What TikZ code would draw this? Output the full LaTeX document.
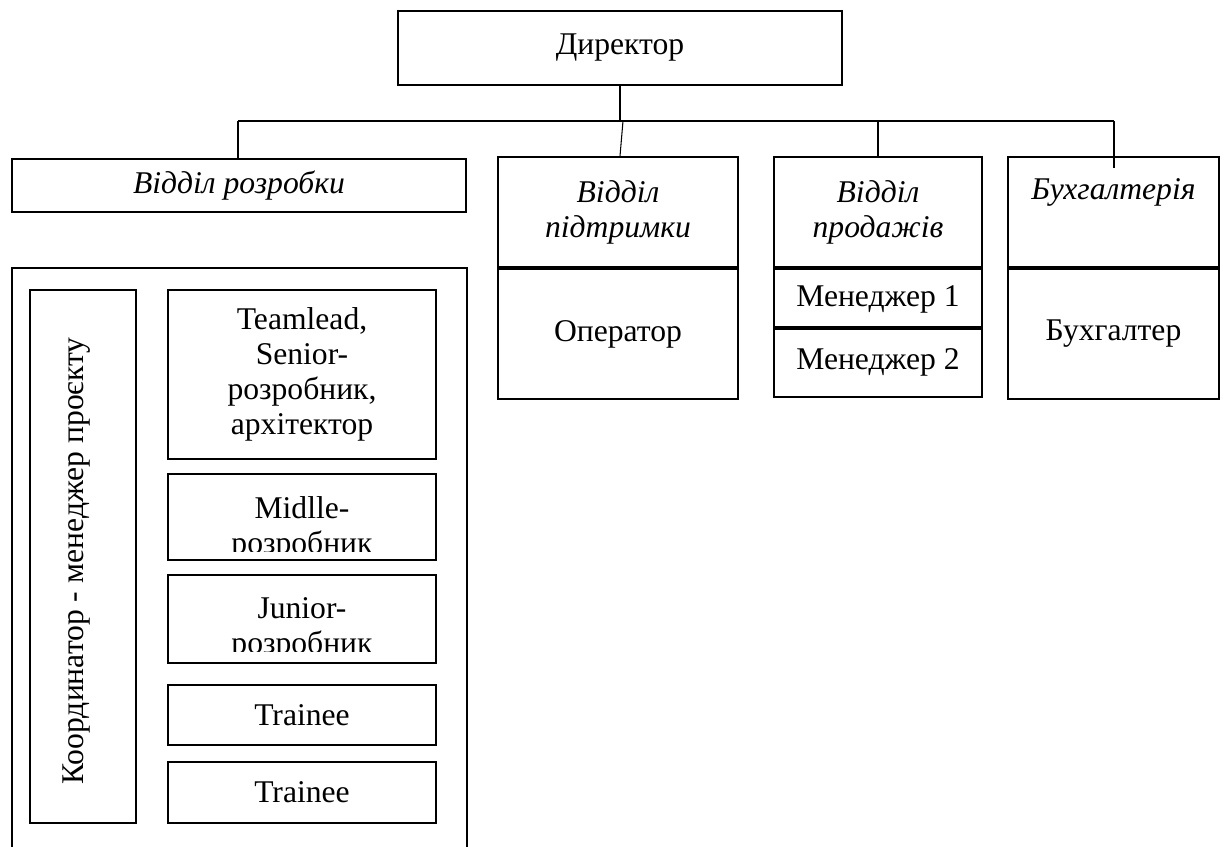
\documentclass[tikz,border=0pt]{standalone}
\usepackage{fontspec}
\setmainfont{Liberation Serif}
\usepackage{tikz}
\usetikzlibrary{positioning, calc}

\begin{document}
\begin{tikzpicture}[
    x=0.02cm, y=-0.02cm,
    font=\fontsize{18}{20}\selectfont,
    box/.style={draw, rectangle, line width=1pt, inner sep=0pt, align=center},
    head/.style={box, font=\fontsize{18}{20}\selectfont\itshape},
    link/.style={line width=0.6pt},
]
\clip (0,0) rectangle (1225,846);

% Director
\node[box, minimum width=8.88cm, minimum height=1.48cm] (director) at (620,48) {Директор};

% Departments
\node[head, minimum width=9.08cm, minimum height=1.06cm] (dev) at (239,185.5) {Відділ розробки};
\node[head, minimum width=4.8cm, minimum height=2.2cm] (supporthead) at (618,212) {Відділ\\підтримки};
\node[head, minimum width=4.16cm, minimum height=2.2cm] (saleshead) at (878,212) {Відділ\\продажів};
\node[head, minimum width=4.22cm, minimum height=2.2cm] (acchead) at (1113.5,212) {Бухгалтерія\\\strut};

% Staff of departments
\node[box, minimum width=4.8cm, minimum height=2.6cm] (operator) at (618,334) {Оператор};
\node[box, minimum width=4.16cm, minimum height=1.2cm] (manager1) at (878,299) {Менеджер 1};
\node[box, minimum width=4.16cm, minimum height=1.4cm] (manager2) at (878,362) {Менеджер 2};
\node[box, minimum width=4.22cm, minimum height=2.6cm] (accountant) at (1113.5,334) {Бухгалтер};

% Development team
\node[box, minimum width=9.1cm, minimum height=12.24cm] (team) at (239.5,574) {};
\node[box, minimum width=2.12cm, minimum height=10.66cm] (coord) at (83,556.5) {};
\node[rotate=90, inner sep=0pt] (coordtext) at (77,561) {Координатор - менеджер проєкту};
\node[box, minimum width=5.36cm, minimum height=3.38cm] (teamlead) at (302,374.5) {Teamlead,\\Senior-\\розробник,\\архітектор};
\node[box, minimum width=5.36cm, minimum height=1.72cm] (middle) at (302,517) {};
\node[box, minimum width=5.36cm, minimum height=1.76cm] (junior) at (302,619) {};
\node[box, minimum width=5.36cm, minimum height=1.2cm] (trainee1) at (302,715) {Trainee};
\node[box, minimum width=5.36cm, minimum height=1.22cm] (trainee2) at (302,792.5) {Trainee};

% Text cut off by the boxes
\begin{scope}
\clip (middle.north west) rectangle ([yshift=0.18cm]middle.south east);
\node[anchor=north, inner sep=0pt, align=center] (middletext) at (302,496) {Midlle-\\розробник};
\end{scope}
\begin{scope}
\clip (junior.north west) rectangle ([yshift=0.24cm]junior.south east);
\node[anchor=north, inner sep=0pt, align=center] (juniortext) at (302,597) {Junior-\\розробник};
\end{scope}

% Connectors
\coordinate (busL) at (238,121);
\coordinate (busR) at (1114,121);
\coordinate (tapS) at (623,121);
\coordinate (acctap) at (1114,168);
\draw[link] (director.south) -- (director.south |- busL);
\draw[link] (busL) -- (busR);
\draw[link] (busL) -- (busL |- dev.north);
\draw[link] (tapS) -- ([xshift=0.04cm]supporthead.north);
\draw[link] (saleshead.north |- busL) -- (saleshead.north);
\draw[link] (busR) -- (acctap);

\end{tikzpicture}
\end{document}
